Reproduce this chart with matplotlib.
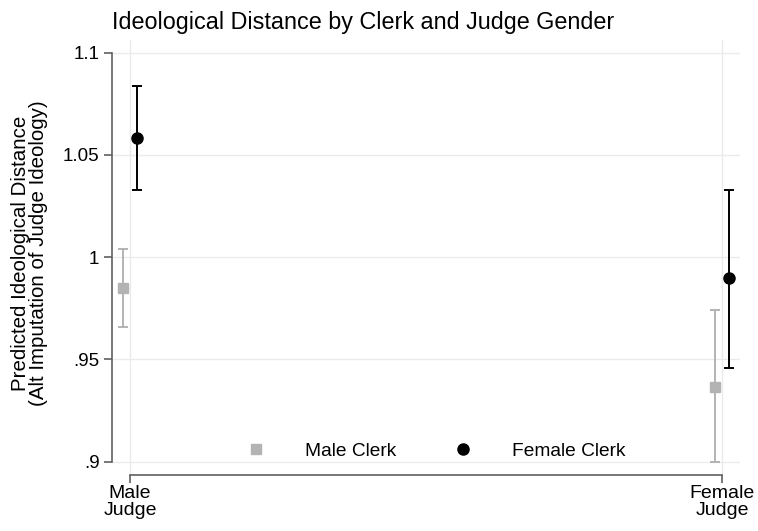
import matplotlib
matplotlib.use("Agg")
import matplotlib.pyplot as plt
import numpy as np

plt.rcParams['font.family'] = ['Liberation Sans', 'DejaVu Sans']

judges = ["Male\nJudge", "Female\nJudge"]
male_clerk = [0.9848, 0.9364]
male_clerk_lo = [0.9658, 0.8997]
male_clerk_hi = [1.0038, 0.9744]
female_clerk = [1.0582, 0.9896]
female_clerk_lo = [1.0328, 0.9458]
female_clerk_hi = [1.0835, 1.0331]
yticks = [0.9, 0.95, 1.0, 1.05, 1.1]
ytick_labels = [".9", ".95", "1", "1.05", "1.1"]

fig = plt.figure(figsize=(7.58, 5.31), dpi=100)
ax = fig.add_axes([112 / 758, 56 / 531, 628 / 758, 435 / 531])

x = np.arange(len(judges))
off = 0.011

gray = "#b3b3b3"
axis_col = "#606060"
mc = np.array(male_clerk)
fc = np.array(female_clerk)
ax.errorbar(x - off, mc, yerr=[mc - np.array(male_clerk_lo), np.array(male_clerk_hi) - mc],
            fmt="s", color=gray, ecolor=gray, markersize=7.8, elinewidth=1.4,
            capsize=3.6, capthick=1.4, label="Male Clerk", zorder=3)
ax.errorbar(x + off, fc, yerr=[fc - np.array(female_clerk_lo), np.array(female_clerk_hi) - fc],
            fmt="o", color="black", ecolor="black", markersize=8, elinewidth=1.4,
            capsize=3.6, capthick=1.4, label="Female Clerk", zorder=3)

ax.set_xlim(-18 / 592, 1 + 18 / 592)
ax.set_ylim(0.9 - 13.3 * 0.05 / 102, 1.1 + 12.7 * 0.05 / 102)

ax.set_yticks(yticks)
ax.set_yticklabels(ytick_labels, fontsize=13.5)
ax.set_xticks(x)
ax.set_xticklabels(judges, fontsize=14, linespacing=0.95)

ax.grid(True, color="#ebebeb", linewidth=1)
ax.set_axisbelow(True)

for s in ["top", "right"]:
    ax.spines[s].set_visible(False)
ax.spines["left"].set_bounds(0.9, 1.1)
ax.spines["bottom"].set_bounds(0, 1)
for s in ["left", "bottom"]:
    ax.spines[s].set_color(axis_col)
    ax.spines[s].set_linewidth(1.2)
ax.tick_params(axis="y", direction="out", length=6, width=1.2, color=axis_col, pad=3)
ax.tick_params(axis="x", direction="out", length=5.5, width=1.2, color=axis_col, pad=2)

fig.text(29.5 / 758, 1 - 253.5 / 531,
         "Predicted Ideological Distance\n(Alt Imputation of Judge Ideology)",
         rotation=90, ha="center", va="center", fontsize=14.8, linespacing=0.9)

fig.text(363.5 / 758, 1 - 22 / 531, "Ideological Distance by Clerk and Judge Gender",
         ha="center", va="center", fontsize=16.8)

handles, labels = ax.get_legend_handles_labels()
handles = [h[0] for h in handles]
ax.legend(handles, labels, ncol=2, frameon=False, fontsize=13.8,
          loc="center", bbox_to_anchor=((436 - 112) / 628, (475 - 451) / 435),
          handletextpad=2.05, columnspacing=3.0, handlelength=1.0)

fig.savefig("out.png", dpi=100)
